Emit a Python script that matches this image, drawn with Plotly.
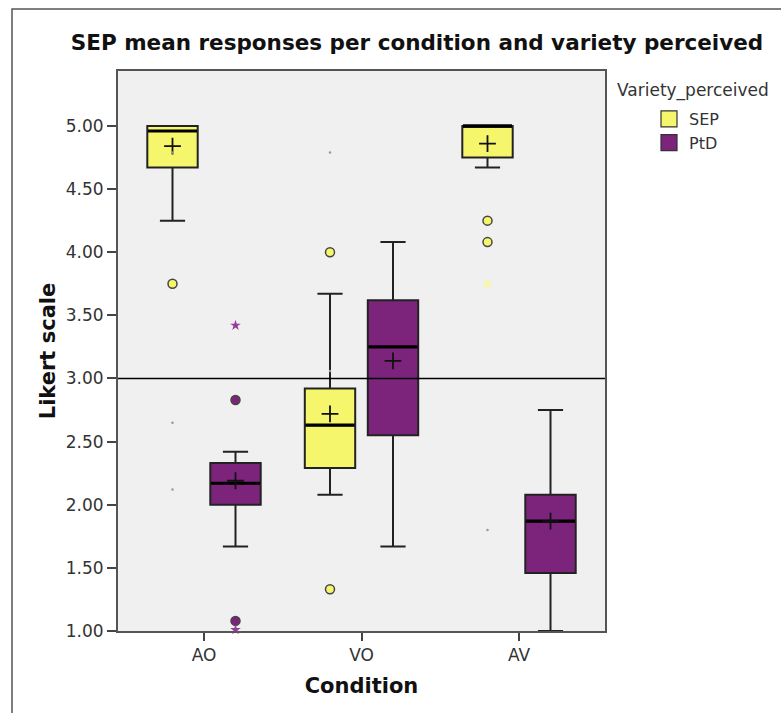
import plotly.graph_objects as go

# ---- data ----
conditions = ["AO", "VO", "AV"]

sep_q1 = [4.67, 2.29, 4.75]
sep_median = [4.96, 2.63, 5.00]
sep_q3 = [5.00, 2.92, 5.00]
sep_lower = [4.25, 2.08, 4.67]
sep_upper = [5.00, 3.67, 5.00]
sep_mean = [4.84, 2.72, 4.86]

ptd_q1 = [2.00, 2.55, 1.46]
ptd_median = [2.17, 3.25, 1.87]
ptd_q3 = [2.33, 3.62, 2.08]
ptd_lower = [1.67, 1.67, 1.00]
ptd_upper = [2.42, 4.08, 2.75]
ptd_mean = [2.19, 3.14, 1.87]

sep_out_x = ["AO", "VO", "VO", "AV", "AV"]
sep_out_y = [3.75, 4.00, 1.33, 4.25, 4.08]
sep_ext_x = ["AV"]
sep_ext_y = [3.75]

ptd_out_x = ["AO", "AO"]
ptd_out_y = [2.83, 1.08]
ptd_ext_x = ["AO", "AO"]
ptd_ext_y = [3.42, 1.01]

dot_x = ["AO", "AO", "AO", "VO", "VO", "AV"]
dot_y = [4.79, 2.65, 2.12, 4.79, 3.06, 1.80]

reference_value = 3.0
y_ticks = [1.0, 1.5, 2.0, 2.5, 3.0, 3.5, 4.0, 4.5, 5.0]

YELLOW = "#F6F66C"
PURPLE = "#7C247C"
EDGE = "#222222"
FONT = "DejaVu Sans"

fig = go.Figure()

groups = [
    ("SEP", YELLOW, sep_q1, sep_median, sep_q3, sep_lower, sep_upper, sep_mean),
    ("PtD", PURPLE, ptd_q1, ptd_median, ptd_q3, ptd_lower, ptd_upper, ptd_mean),
]

for name, color, q1, med, q3, lo, hi, mean in groups:
    fig.add_trace(go.Box(
        x=conditions, q1=q1, median=med, q3=q3,
        lowerfence=lo, upperfence=hi,
        name=name, offsetgroup=name, boxpoints=False,
        fillcolor=color, line=dict(color=EDGE, width=2),
        whiskerwidth=0.5, showlegend=False, hoverinfo="skip",
    ))

# thick median lines
for name, color, q1, med, q3, lo, hi, mean in groups:
    fig.add_trace(go.Scatter(
        x=conditions, y=med, mode="markers", offsetgroup=name,
        marker=dict(symbol="line-ew", size=35, line=dict(color="black", width=3.2)),
        showlegend=False, hoverinfo="skip",
    ))

# mean markers
for name, color, q1, med, q3, lo, hi, mean in groups:
    fig.add_trace(go.Scatter(
        x=conditions, y=mean, mode="markers", offsetgroup=name,
        marker=dict(symbol="cross-thin", size=12, line=dict(color="#111", width=1.8)),
        showlegend=False, hoverinfo="skip",
    ))

# outliers
fig.add_trace(go.Scatter(
    x=sep_out_x, y=sep_out_y, mode="markers", offsetgroup="SEP",
    marker=dict(symbol="circle", size=9, color=YELLOW, line=dict(color="#444", width=1.5)),
    showlegend=False, hoverinfo="skip"))
fig.add_trace(go.Scatter(
    x=sep_ext_x, y=sep_ext_y, mode="markers", offsetgroup="SEP",
    marker=dict(symbol="star", size=8, color="#F8F8A0", line=dict(width=0)),
    showlegend=False, hoverinfo="skip"))
fig.add_trace(go.Scatter(
    x=ptd_out_x, y=ptd_out_y, mode="markers", offsetgroup="PtD",
    marker=dict(symbol="circle", size=9, color=PURPLE, line=dict(color="#444", width=1.5)),
    showlegend=False, hoverinfo="skip"))
fig.add_trace(go.Scatter(
    x=ptd_ext_x, y=ptd_ext_y, mode="markers", offsetgroup="PtD", cliponaxis=False,
    marker=dict(symbol="star", size=8, color="#9b3c9b", line=dict(width=0)),
    showlegend=False, hoverinfo="skip"))

# tiny grey dots at category centres
fig.add_trace(go.Scatter(
    x=dot_x, y=dot_y, mode="markers",
    marker=dict(symbol="circle", size=2.5, color="#999"),
    showlegend=False, hoverinfo="skip"))

# legend entries
for name, color, *_ in groups:
    fig.add_trace(go.Scatter(
        x=[None], y=[None], mode="markers", name=name, offsetgroup=name,
        marker=dict(symbol="square", size=16, color=color, line=dict(color="#333", width=1.2)),
    ))

fig.add_shape(type="line", xref="paper", x0=0, x1=1, yref="y",
              y0=reference_value, y1=reference_value,
              line=dict(color="black", width=1.6), layer="above")

# outer frame
fig.add_shape(type="rect", xref="paper", yref="paper",
              x0=(12 - 118) / 487, x1=1.40, y0=-0.20, y1=(631 - 9) / 560,
              line=dict(color="#555", width=1.5), layer="below")

fig.add_annotation(text="Variety_perceived", xref="paper", yref="paper",
                   x=(615 - 118) / 487, y=(631 - 90) / 560,
                   xanchor="left", yanchor="middle", showarrow=False,
                   font=dict(family=FONT, size=17, color="#333"))

fig.update_layout(
    width=781, height=713,
    margin=dict(l=118, r=176, t=71, b=82),
    paper_bgcolor="white", plot_bgcolor="#F0F0F0",
    boxmode="group", boxgap=0.2, boxgroupgap=0.2,
    scattermode="group", scattergap=0.2,
    font=dict(family=FONT, color="#333"),
    title=dict(text="<b>SEP mean responses per condition and variety perceived</b>",
               x=(417 - 118) / 487, xref="paper", xanchor="center",
               y=1 - 42 / 713, yref="container", yanchor="middle",
               font=dict(family=FONT, size=21.5, color="#111")),
    legend=dict(x=(649 - 118) / 487, y=(631 - 102) / 560, xanchor="left", yanchor="top",
                font=dict(family=FONT, size=16, color="#333"),
                bgcolor="rgba(0,0,0,0)", tracegroupgap=0),
    showlegend=True,
)

fig.update_xaxes(
    type="category", categoryorder="array", categoryarray=conditions,
    range=[-0.546, 2.546],
    showline=True, mirror=True, linecolor="#555", linewidth=2,
    ticks="outside", ticklen=8, tickwidth=1.5, tickcolor="#444",
    showgrid=False, zeroline=False,
    tickfont=dict(family=FONT, size=17, color="#333"),
    title=dict(text="<b>Condition</b>", standoff=14,
               font=dict(family=FONT, size=21, color="#111")),
)
fig.update_yaxes(
    range=[1.0, 5.435], tickvals=y_ticks, tickformat=".2f",
    showline=True, mirror=True, linecolor="#555", linewidth=2,
    ticks="outside", ticklen=9, tickwidth=1.5, tickcolor="#444",
    showgrid=False, zeroline=False,
    tickfont=dict(family=FONT, size=17, color="#333"),
    title=dict(text="<b>Likert scale</b>", standoff=4,
               font=dict(family=FONT, size=21, color="#111")),
)

fig.write_html("out.html")
